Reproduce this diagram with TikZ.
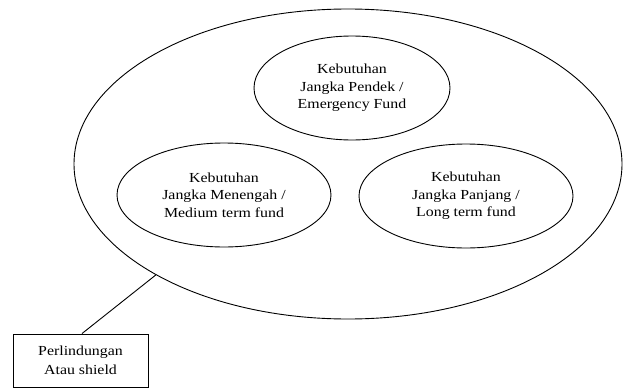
\documentclass[tikz,border=0pt]{standalone}
\usepackage{fontspec}
\setmainfont{Liberation Serif}[FakeStretch=1.15]
\usetikzlibrary{shapes.geometric}
\begin{document}
\begin{tikzpicture}[x=1pt,y=-1pt,
  every node/.style={line width=0.9pt},
  bigoval/.style={draw, ellipse, inner sep=0pt, minimum width=548pt, minimum height=310pt},
  needoval/.style={draw, ellipse, inner sep=0pt, minimum width=214pt, minimum height=104pt,
    align=center, font=\fontsize{13.8}{17.5}\selectfont},
  labelbox/.style={draw, rectangle, inner sep=0pt, minimum width=135pt, minimum height=53pt,
    align=center, font=\fontsize{13.8}{18.5}\selectfont},
  link/.style={draw, line width=0.9pt}]
\useasboundingbox (0,0) rectangle (624,388);
\node[bigoval] (outer) at (348,164) {};
\node[needoval, minimum width=196pt] (short) at (352,88) {Kebutuhan\\Jangka Pendek /\\Emergency Fund};
\node[needoval] (medium) at (224,195) {Kebutuhan\\Jangka Menengah /\\Medium term fund};
\node[needoval] (long) at (466,196) {Kebutuhan\\Jangka Panjang /\\Long term fund};
\node[labelbox] (shield) at (80.5,360.5) {Perlindungan\\Atau shield};
\draw[link] ([xshift=1.5pt]shield.north) -- (outer.210);
\end{tikzpicture}
\end{document}
